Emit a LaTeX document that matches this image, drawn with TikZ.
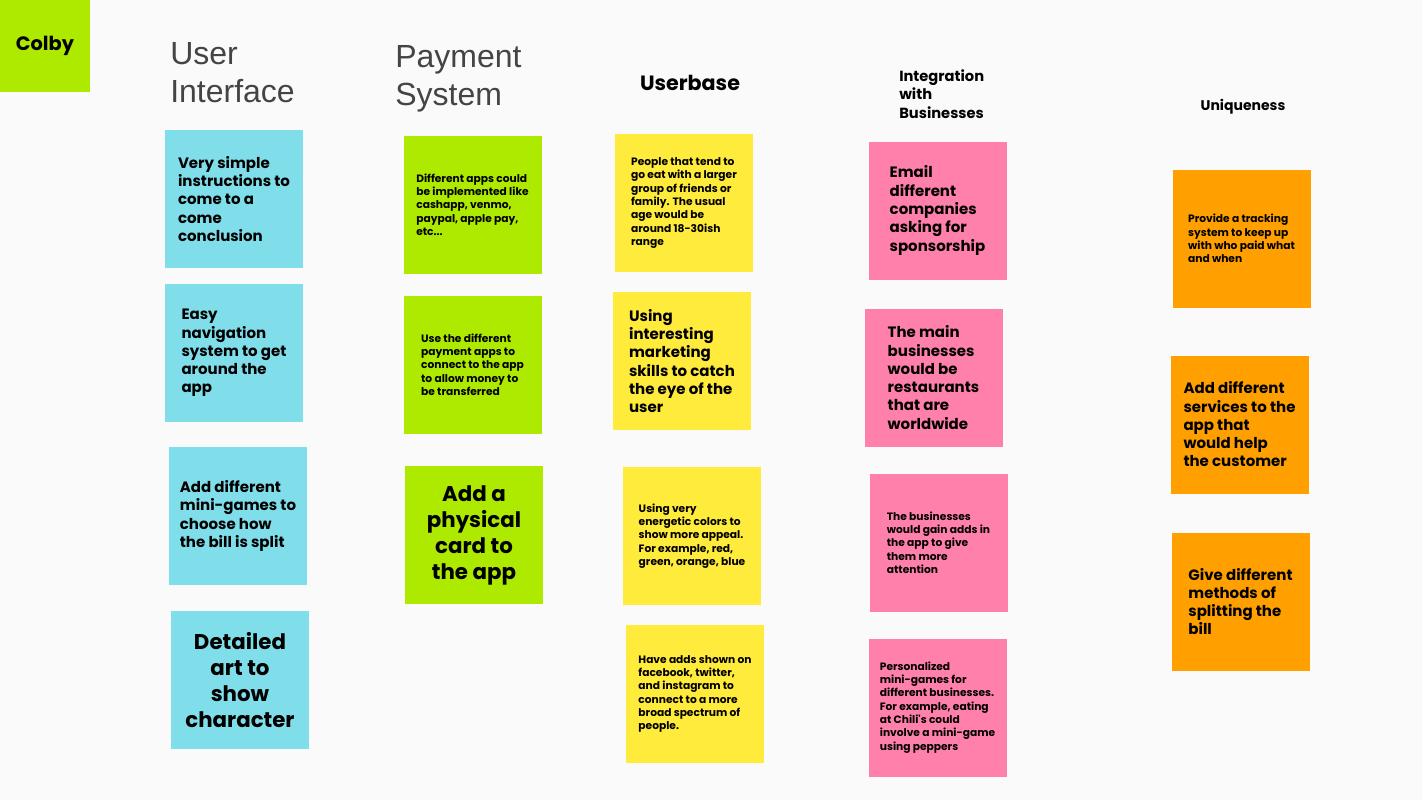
\documentclass[tikz,border=0pt]{standalone}
\usepackage{fontspec}
\newfontfamily\pop{Poppins}
\newfontfamily\lib{Liberation Sans}
\definecolor{bg}{HTML}{FAFAFA}
\definecolor{nblue}{HTML}{80DEEA}
\definecolor{nlime}{HTML}{AEEA00}
\definecolor{nyellow}{HTML}{FFEB3B}
\definecolor{npink}{HTML}{FF80AB}
\definecolor{norange}{HTML}{FFA000}
\definecolor{hgray}{HTML}{444444}
\tikzset{
  note/.style={draw=none, minimum width=103.5pt, minimum height=103.5pt, inner sep=0pt, align=left, text=black},
  mid/.style={font=\pop\bfseries\fontsize{11.25}{13.7}\selectfont},
  small/.style={font=\pop\bfseries\fontsize{8}{10}\selectfont},
  big/.style={font=\pop\bfseries\fontsize{16}{19.5}\selectfont, align=center},
  head/.style={font=\lib\fontsize{24}{28.5}\selectfont, text=hgray, align=left, inner sep=0pt, anchor=north west},
}
\begin{document}
\begin{tikzpicture}[x=0.75pt,y=-0.75pt]
\fill[bg] (0,0) rectangle (1422,800);
\useasboundingbox (0,0) rectangle (1422,800);
% name tag
\node[fill=nlime, minimum width=67.5pt, minimum height=69pt, inner sep=0pt, font=\pop\bfseries\fontsize{14.5}{17}\selectfont] (colby) at (45,46) {Colby};
% headers
\node[head] (hui) at (170,42) {User\\Interface};
\node[head] (hps) at (395,45) {Payment\\System};
\node[font=\pop\bfseries\fontsize{15.5}{18}\selectfont] (hub) at (690,83) {Userbase};
\node[font=\pop\bfseries\fontsize{11}{13.9}\selectfont, align=left, anchor=north west, inner sep=0pt] (hib) at (899,69) {Integration\\with\\Businesses};
\node[font=\pop\bfseries\fontsize{10.5}{12}\selectfont] (hun) at (1243,107) {Uniqueness};
% user interface
\node[note, fill=nblue, mid] (b1) at (234,199) {Very simple\\instructions to\\come to a\\come\\conclusion};
\node[note, fill=nblue, mid] (b2) at (234,353) {Easy\\navigation\\system to get\\around the\\app};
\node[note, fill=nblue, mid] (b3) at (238,516) {Add different\\mini-games to\\choose how\\the bill is split};
\node[note, fill=nblue, big] (b4) at (240,680) {Detailed\\art to\\show\\character};
% payment
\node[note, fill=nlime, small] (g1) at (472.5,204.5) {Different apps could\\be implemented like\\cashapp, venmo,\\paypal, apple pay,\\etc...};
\node[note, fill=nlime, small] (g2) at (472.5,364.5) {Use the different\\payment apps to\\connect to the app\\to allow money to\\be transferred};
\node[note, fill=nlime, big] (g3) at (474,535) {Add a\\physical\\card to\\the app};
% userbase
\node[note, fill=nyellow, small] (y1) at (684,203) {People that tend to\\go eat with a larger\\group of friends or\\family. The usual\\age would be\\around 18-30ish\\range};
\node[note, fill=nyellow, mid] (y2) at (682,361) {Using\\interesting\\marketing\\skills to catch\\the eye of the\\user};
\node[note, fill=nyellow, small] (y3) at (692,536) {Using very\\energetic colors to\\show more appeal.\\For example, red,\\green, orange, blue};
\node[note, fill=nyellow, small] (y4) at (695,694) {Have adds shown on\\facebook, twitter,\\and instagram to\\connect to a more\\broad spectrum of\\people.};
% integration
\node[note, fill=npink, mid] (p1) at (937.5,210.5) {Email\\different\\companies\\asking for\\sponsorship};
\node[note, fill=npink, mid] (p2) at (933.5,377.5) {The main\\businesses\\would be\\restaurants\\that are\\worldwide};
\node[note, fill=npink, small] (p3) at (938.5,542.5) {The businesses\\would gain adds in\\the app to give\\them more\\attention};
\node[note, fill=npink, small] (p4) at (937.5,707.5) {Personalized\\mini-games for\\different businesses.\\For example, eating\\at Chili's could\\involve a mini-game\\using peppers};
% uniqueness
\node[note, fill=norange, small] (o1) at (1241.5,238.5) {Provide a tracking\\system to keep up\\with who paid what\\and when};
\node[note, fill=norange, mid] (o2) at (1239.5,424.5) {Add different\\services to the\\app that\\would help\\the customer};
\node[note, fill=norange, mid] (o3) at (1240.5,601.5) {Give different\\methods of\\splitting the\\bill};
\end{tikzpicture}
\end{document}
